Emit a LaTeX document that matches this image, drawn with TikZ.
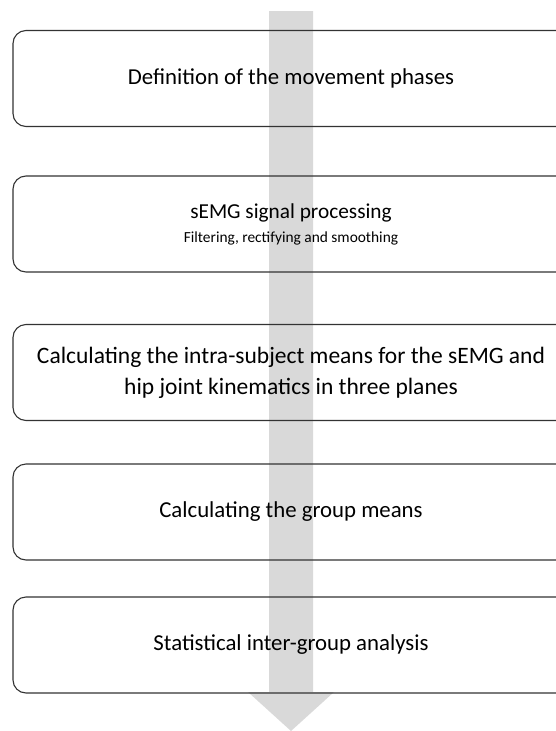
\documentclass[tikz,border=0pt]{standalone}
\usepackage{fontspec}
\setmainfont{Carlito}
\begin{document}
\begin{tikzpicture}[x=1pt,y=-1pt,
  stepbox/.style={draw=black!80, line width=1.1pt, rounded corners=13pt,
    minimum width=556pt, minimum height=96pt, inner sep=0pt,
    align=center, font=\fontsize{22.8}{31}\selectfont},
  flowarrow/.style={fill=black!15, draw=none}]
\useasboundingbox (0,0) rectangle (556,731);
\fill[flowarrow] (269,11) -- (313,11) -- (313,692) -- (334,692) -- (291,731) -- (248,692) -- (269,692) -- cycle;
\node[stepbox] (b1) at (291,78.5) {Definition of the movement phases};
\node[stepbox, font=\fontsize{21.3}{26}\selectfont] (b2) at (291,224) {sEMG signal processing\\[-2pt]{\fontsize{15.4}{18}\selectfont Filtering, rectifying and smoothing}};
\node[stepbox, font=\fontsize{23.5}{31}\selectfont] (b3) at (291,372.5) {Calculating the intra-subject means for the sEMG and\\hip joint kinematics in three planes};
\node[stepbox] (b4) at (291,512) {Calculating the group means};
\node[stepbox] (b5) at (291,645) {Statistical inter-group analysis};
\end{tikzpicture}
\end{document}
